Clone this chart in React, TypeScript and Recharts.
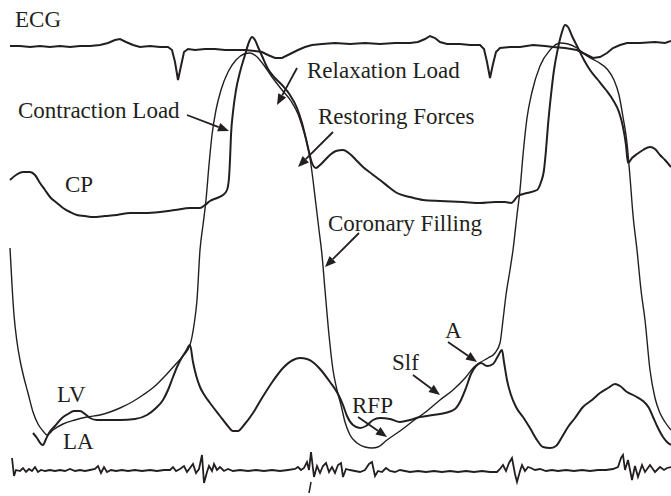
import { LineChart, Line, XAxis, YAxis, ReferenceLine, ReferenceDot } from 'recharts';

// traces: [time, deflection] (deflection grows downward)
const ecg = [
  [10, 46], [20, 46], [30, 47], [40, 46], [50, 47], [60, 46], [70, 47], [80, 46], [90, 46], [100, 45],
  [108, 43], [115, 40], [120, 39], [126, 42], [133, 45], [140, 47], [150, 46], [160, 47], [168, 47], [172, 50],
  [175, 62], [178, 80], [181, 66], [184, 52], [188, 49], [195, 50], [205, 49], [215, 49], [225, 50], [235, 50],
  [245, 50], [255, 51], [262, 52], [268, 55], [275, 58], [282, 58], [290, 54], [298, 50], [305, 47], [312, 45],
  [322, 44], [335, 43], [350, 44], [365, 43], [380, 44], [395, 43], [410, 43], [418, 42], [425, 39], [430, 36],
  [435, 38], [440, 42], [447, 44], [460, 44], [470, 45], [480, 45], [484, 49], [487, 62], [490, 78], [493, 64],
  [496, 52], [500, 48], [510, 47], [520, 47], [533, 45], [545, 46], [553, 47], [565, 48], [577, 50], [585, 54],
  [593, 58], [600, 57], [607, 53], [613, 48], [620, 45], [627, 43], [640, 43], [655, 42], [665, 43], [671, 41],
];

const lv = [
  [10, 248], [12, 285], [14, 315], [17, 342], [20, 360], [24, 378], [28, 393], [33, 412], [38, 424], [43, 431],
  [47, 435], [53, 430], [63, 424], [75, 420], [87, 417], [100, 415], [110, 412], [120, 408], [132, 402], [143, 395],
  [155, 386], [165, 376], [175, 365], [183, 356], [190, 345], [194, 325], [197, 300], [200, 250], [203, 225], [206, 200],
  [209, 165], [212, 135], [216, 110], [221, 90], [228, 72], [236, 60], [244, 54], [250, 53], [256, 56], [263, 64],
  [272, 77], [282, 90], [291, 101], [298, 114], [303, 129], [307, 143], [310, 158], [313, 180], [316, 205], [319, 230],
  [322, 255], [325, 290], [329, 335], [333, 370], [337, 390], [341, 405], [345, 422], [350, 435], [357, 443], [365, 447],
  [372, 448], [378, 447], [387, 440], [400, 431], [413, 421], [427, 411], [440, 400], [453, 390], [466, 377], [474, 367],
  [481, 362], [488, 358], [495, 353], [500, 343], [503, 320], [506, 295], [510, 270], [513, 250], [517, 215], [520, 190],
  [523, 155], [527, 118], [532, 92], [540, 66], [550, 50], [560, 43], [568, 44], [577, 48], [587, 56], [598, 62],
  [607, 69], [614, 80], [619, 95], [623, 117], [627, 143], [630, 177], [633, 215], [637, 250], [641, 290], [645, 320],
  [650, 370], [655, 398], [660, 413], [665, 422], [671, 430],
];

const cp = [
  [10, 180], [16, 175], [23, 172], [30, 172], [35, 175], [40, 183], [45, 190], [50, 197], [57, 203], [63, 208],
  [70, 212], [77, 215], [85, 216], [93, 217], [105, 216], [117, 215], [130, 213], [145, 213], [160, 212], [175, 210],
  [190, 208], [200, 208], [205, 205], [210, 201], [217, 198], [223, 195], [227, 190], [229, 178], [230, 160], [231, 135],
  [233, 112], [236, 90], [240, 72], [245, 55], [249, 42], [252, 37], [255, 40], [258, 47], [262, 56], [268, 69],
  [275, 78], [283, 86], [290, 95], [297, 108], [302, 123], [306, 139], [309, 152], [312, 163], [316, 168], [320, 165],
  [325, 160], [330, 155], [336, 151], [343, 150], [350, 154], [357, 161], [363, 167], [372, 174], [380, 180], [390, 188],
  [397, 193], [410, 197], [423, 200], [440, 201], [463, 202], [480, 203], [495, 202], [505, 202], [511, 203], [518, 196],
  [527, 193], [537, 190], [541, 182], [544, 170], [546, 150], [548, 125], [551, 95], [554, 70], [558, 48], [562, 32],
  [565, 25], [568, 27], [572, 36], [578, 48], [584, 60], [590, 70], [598, 80], [606, 90], [613, 100], [619, 112],
  [623, 127], [626, 145], [628, 163], [632, 158], [637, 154], [643, 150], [650, 147], [655, 149], [660, 155], [665, 160],
  [671, 167],
];

const la = [
  [33, 433], [37, 438], [41, 444], [43, 445], [46, 439], [49, 433], [55, 426], [62, 418], [68, 414], [74, 411],
  [80, 411], [85, 414], [90, 418], [97, 420], [107, 420], [120, 420], [135, 419], [147, 415], [156, 408], [163, 400],
  [168, 390], [173, 377], [177, 367], [181, 359], [186, 351], [190, 345], [193, 362], [196, 375], [200, 387], [205, 396],
  [210, 403], [220, 416], [227, 425], [233, 431], [238, 431], [244, 425], [253, 413], [262, 398], [273, 381], [283, 368],
  [293, 360], [300, 358], [307, 359], [314, 363], [320, 369], [330, 382], [338, 394], [343, 405], [347, 416], [353, 425],
  [360, 428], [366, 426], [373, 420], [380, 418], [390, 419], [400, 422], [410, 420], [420, 417], [433, 415], [445, 413],
  [455, 409], [461, 400], [466, 388], [471, 374], [476, 366], [481, 363], [487, 366], [493, 364], [498, 356], [502, 350],
  [504, 362], [507, 380], [511, 395], [516, 407], [523, 417], [530, 428], [537, 440], [543, 447], [550, 448], [556, 446],
  [562, 437], [568, 427], [575, 418], [583, 407], [592, 400], [600, 393], [608, 388], [615, 384], [620, 386], [627, 392],
  [635, 396], [643, 401], [649, 408], [653, 417], [658, 428], [663, 437], [667, 442], [671, 445],
];

const emg = [
  [12, 458], [14, 476], [16, 470], [20, 471], [23, 468], [26, 472], [29, 469], [32, 471], [35, 467], [38, 472],
  [41, 470], [45, 471], [50, 470], [55, 471], [60, 470], [65, 471], [70, 469], [75, 471], [80, 470], [85, 471],
  [90, 470], [95, 469], [98, 466], [101, 473], [104, 467], [107, 472], [111, 470], [116, 471], [122, 470], [128, 471],
  [135, 470], [142, 471], [150, 470], [157, 471], [164, 470], [170, 470], [173, 467], [176, 471], [180, 469], [184, 466],
  [187, 472], [190, 468], [193, 464], [196, 473], [199, 469], [202, 455], [204, 483], [207, 472], [209, 466], [212, 471],
  [214, 464], [217, 470], [220, 467], [224, 471], [228, 469], [233, 471], [240, 470], [248, 471], [256, 470], [264, 471],
  [272, 470], [280, 471], [288, 470], [295, 469], [298, 467], [301, 470], [304, 468], [307, 462], [309, 470], [311, 452],
  [314, 477], [317, 466], [320, 473], [323, 466], [326, 463], [329, 472], [332, 467], [335, 473], [338, 465], [341, 463],
  [343, 477], [346, 469], [350, 470], [355, 471], [360, 472], [365, 470], [369, 464], [372, 462], [375, 476], [378, 471],
  [382, 472], [386, 468], [390, 471], [395, 472], [400, 470], [405, 471], [410, 472], [418, 471], [426, 472], [434, 471],
  [442, 472], [450, 471], [458, 472], [466, 471], [474, 472], [482, 471], [490, 472], [497, 472], [500, 469], [503, 465],
  [506, 471], [509, 463], [512, 458], [515, 474], [517, 482], [520, 471], [522, 465], [525, 471], [528, 467], [531, 468],
  [535, 470], [540, 469], [546, 471], [552, 470], [558, 471], [566, 470], [574, 471], [582, 470], [590, 471], [598, 470],
  [606, 470], [613, 469], [618, 467], [621, 458], [623, 455], [625, 470], [628, 460], [632, 480], [635, 466], [638, 477],
  [642, 465], [645, 472], [650, 465], [655, 472], [660, 467], [664, 470], [667, 468], [671, 467],
];

// annotation text and arrows (tail -> head)
const labels = [
  { text: 'ECG', x: 15, y: 27 },
  { text: 'Contraction Load', x: 18, y: 118 },
  { text: 'Relaxation Load', x: 307, y: 78 },
  { text: 'Restoring Forces', x: 318, y: 124 },
  { text: 'CP', x: 65, y: 192 },
  { text: 'Coronary Filling', x: 328, y: 231 },
  { text: 'LV', x: 57, y: 402 },
  { text: 'LA', x: 63, y: 449 },
  { text: 'RFP', x: 352, y: 413 },
  { text: 'Slf', x: 392, y: 370 },
  { text: 'A', x: 445, y: 338 },
];

const arrows = [
  [187, 115, 229, 131],
  [297, 68, 277, 105],
  [333, 132, 298, 167],
  [359, 233, 325, 267],
  [358, 417, 387, 437],
  [413, 375, 440, 395],
  [448, 342, 477, 362],
];

const INK = '#231f20';
const toPts = (arr: number[][]) => arr.map(([x, y]) => ({ x, y }));

const renderArrow = (p: any) => {
  const { x1, y1, x2, y2 } = p;
  const a = Math.atan2(y2 - y1, x2 - x1);
  const len = 11;
  const w = 4.5;
  const bx = x2 - len * Math.cos(a);
  const by = y2 - len * Math.sin(a);
  const px = -Math.sin(a) * w;
  const py = Math.cos(a) * w;
  return (
    <g>
      <line x1={x1} y1={y1} x2={bx} y2={by} stroke={INK} strokeWidth={1.8} />
      <polygon points={`${x2},${y2} ${bx + px},${by + py} ${bx - px},${by - py}`} fill={INK} />
    </g>
  );
};

const traces = [
  { name: 'ecg', pts: ecg, curve: 'linear', width: 2 },
  { name: 'cp', pts: cp, curve: 'monotoneX', width: 2 },
  { name: 'lv', pts: lv, curve: 'monotoneX', width: 1.4 },
  { name: 'la', pts: la, curve: 'monotoneX', width: 2 },
  { name: 'emg', pts: emg, curve: 'linear', width: 1.8 },
];

export default function App() {
  return (
    <div style={{ position: 'absolute', left: 0, top: 0, background: '#fff' }}>
      <LineChart width={671} height={496} margin={{ top: 0, right: 0, bottom: 0, left: 0 }}>
        <XAxis type="number" dataKey="x" domain={[0, 671]} hide />
        <YAxis type="number" domain={[0, 496]} reversed hide />
        {traces.map((t) => (
          <Line
            key={t.name}
            data={toPts(t.pts)}
            dataKey="y"
            type={t.curve as any}
            stroke={INK}
            strokeWidth={t.width}
            dot={false}
            activeDot={false}
            isAnimationActive={false}
          />
        ))}
        <ReferenceLine segment={[{ x: 311, y: 482 }, { x: 309, y: 493 }]} stroke={INK} strokeWidth={1.5} />
        {arrows.map(([x1, y1, x2, y2], i) => (
          <ReferenceLine key={`a${i}`} segment={[{ x: x1, y: y1 }, { x: x2, y: y2 }]} shape={renderArrow} />
        ))}
        {labels.map((l) => (
          <ReferenceDot
            key={l.text}
            x={l.x}
            y={l.y}
            r={0}
            shape={(p: any) => (
              <text x={p.cx} y={p.cy} fill={INK} fontFamily="'Liberation Serif', 'DejaVu Serif', serif" fontSize={23}>
                {l.text}
              </text>
            )}
          />
        ))}
      </LineChart>
    </div>
  );
}
